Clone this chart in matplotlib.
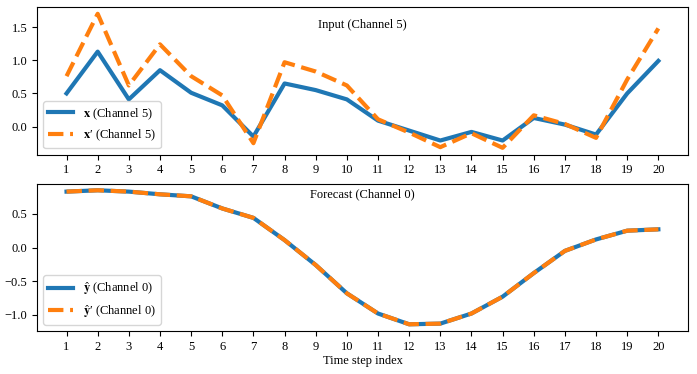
import matplotlib.pyplot as plt

plt.rcParams["font.family"] = ["Liberation Serif", "DejaVu Serif"]
plt.rcParams["mathtext.fontset"] = "stix"
plt.rcParams["font.size"] = 9

steps = list(range(1, 21))

x_in = [0.50, 1.13, 0.41, 0.85, 0.51, 0.32, -0.15, 0.65, 0.55, 0.41,
        0.09, -0.06, -0.21, -0.08, -0.21, 0.13, 0.03, -0.12, 0.50, 0.99]
x_adv = [0.76, 1.70, 0.62, 1.24, 0.76, 0.47, -0.25, 0.97, 0.83, 0.62,
         0.11, -0.09, -0.31, -0.10, -0.32, 0.17, 0.04, -0.17, 0.71, 1.48]

y_hat = [0.83, 0.85, 0.83, 0.79, 0.76, 0.58, 0.44, 0.11, -0.26, -0.68,
         -0.98, -1.14, -1.13, -0.98, -0.73, -0.38, -0.05, 0.12, 0.25, 0.27]
y_hat_adv = list(y_hat)

blue = "#1f77b4"
orange = "#ff7f0e"

fig, (ax1, ax2) = plt.subplots(2, 1, figsize=(6.97, 3.74), dpi=100)
fig.subplots_adjust(left=0.053, right=0.987, top=0.981, bottom=0.115, hspace=0.197)

ax1.plot(steps, x_in, color=blue, lw=3, label=r"$\mathbf{x}$ (Channel 5)")
ax1.plot(steps, x_adv, color=orange, lw=3, ls="--", label="$\\mathbf{x}$\u2032 (Channel 5)")
ax1.text(0.5, 0.88, "Input (Channel 5)", transform=ax1.transAxes, ha="center", va="center")
ax1.legend(loc="lower left")

ax2.plot(steps, y_hat, color=blue, lw=3, label=r"$\hat{\mathbf{y}}$ (Channel 0)")
ax2.plot(steps, y_hat_adv, color=orange, lw=3, ls="--", label="$\\hat{\\mathbf{y}}$\u2032 (Channel 0)")
ax2.text(0.5, 0.93, "Forecast (Channel 0)", transform=ax2.transAxes, ha="center", va="center")
ax2.legend(loc="lower left")
ax2.set_xlabel("Time step index", labelpad=2)

for ax in (ax1, ax2):
    ax.set_xticks(steps)

fig.savefig("out.png", dpi=100)
